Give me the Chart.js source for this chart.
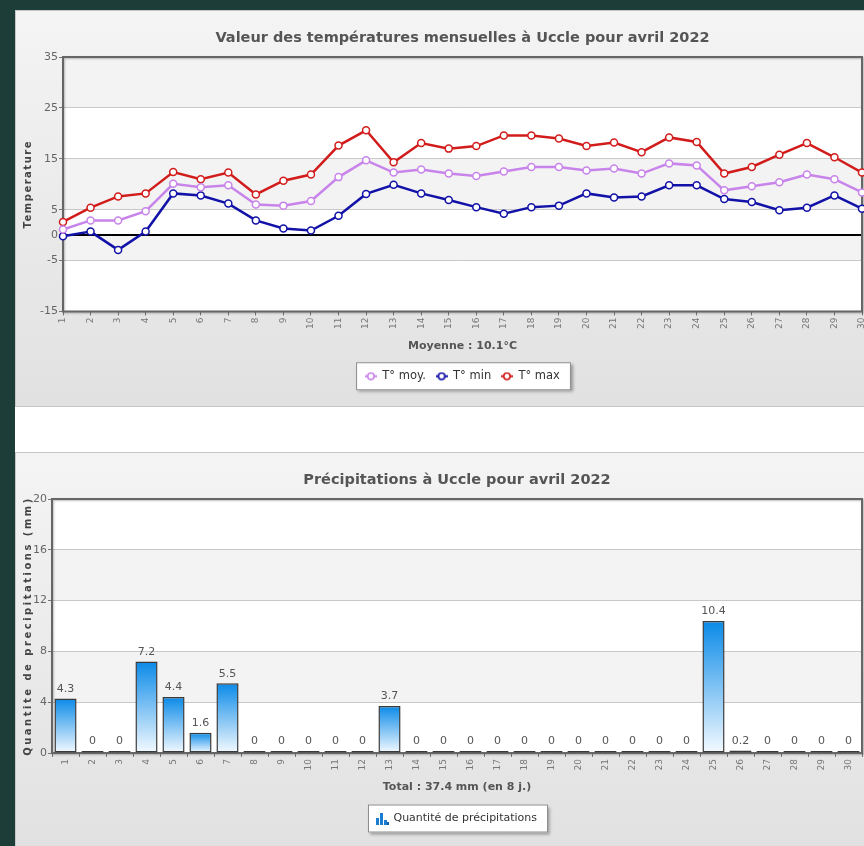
<!DOCTYPE html>
<html lang="fr">
<head>
<meta charset="utf-8">
<title>Uccle - avril 2022</title>
<script src="https://cdn.jsdelivr.net/npm/chart.js@4.4.1/dist/chart.umd.min.js"></script>
<style>
    html, body { margin: 0; padding: 0; }
    body { width: 864px; height: 846px; overflow: hidden; position: relative; background: #fff; }
    .strip { position: absolute; background: #1c3d38; }
    .panel { position: absolute; box-sizing: border-box; border: 1px solid #c6c6c6; background: linear-gradient(#f4f4f4, #e1e1e1); }
    canvas { position: absolute; }
</style>
</head>
<body>
<div class="strip" style="left:0;top:0;width:15px;height:846px"></div>
<div class="strip" style="left:0;top:0;width:864px;height:10px"></div>
<div class="panel" style="left:15px;top:10px;width:900px;height:397px"></div>
<div class="panel" style="left:15px;top:452px;width:900px;height:400px"></div>
<canvas id="tempChart" width="895" height="397" style="left:15px;top:10px"></canvas>
<canvas id="rainChart" width="884" height="397" style="left:15px;top:452px"></canvas>

<script>
const days = ['1', '2', '3', '4', '5', '6', '7', '8', '9', '10', '11', '12', '13', '14', '15',
              '16', '17', '18', '19', '20', '21', '22', '23', '24', '25', '26', '27', '28', '29', '30'];

const tMoy = [1.1, 2.9, 2.9, 4.7, 10.1, 9.4, 9.8, 6.0, 5.8, 6.7, 11.4, 14.7, 12.3, 12.9, 12.1,
              11.6, 12.5, 13.4, 13.4, 12.7, 13.1, 12.1, 14.1, 13.7, 8.8, 9.6, 10.4, 11.9, 11.0, 8.4];
const tMin = [-0.2, 0.7, -2.9, 0.7, 8.2, 7.8, 6.2, 2.9, 1.3, 0.9, 3.8, 8.1, 9.9, 8.2, 6.9,
              5.5, 4.2, 5.5, 5.8, 8.2, 7.4, 7.6, 9.8, 9.8, 7.1, 6.5, 4.9, 5.4, 7.8, 5.2];
const tMax = [2.6, 5.4, 7.6, 8.2, 12.4, 11.0, 12.3, 8.0, 10.7, 11.9, 17.6, 20.6, 14.3, 18.1, 17.0,
              17.5, 19.6, 19.6, 19.0, 17.5, 18.2, 16.3, 19.2, 18.3, 12.1, 13.4, 15.8, 18.1, 15.3, 12.3];
const tempTicks = [-15, -5, 0, 5, 15, 25, 35];

const rain = [4.3, 0, 0, 7.2, 4.4, 1.6, 5.5, 0, 0, 0, 0, 0, 3.7, 0, 0,
              0, 0, 0, 0, 0, 0, 0, 0, 0, 10.4, 0.2, 0, 0, 0, 0];
const rainTicks = [0, 4, 8, 12, 16, 20];

const FONT = '"DejaVu Sans", Verdana, sans-serif';
const lineColors = ['#c884ea', '#1212a8', '#d21c1c'];

Chart.defaults.font.family = FONT;

// alternating bands behind the plot + dark frame around it
const plotFrame = {
    id: 'plotFrame',
    beforeDraw(chart) {
        const { ctx, chartArea: a, scales: { y } } = chart;
        const vals = y.ticks.map(t => t.value).sort((p, q) => p - q);
        ctx.save();
        for (let i = 0; i < vals.length - 1; i++) {
            const yb = y.getPixelForValue(vals[i]);
            const yt = y.getPixelForValue(vals[i + 1]);
            ctx.fillStyle = i % 2 ? '#f3f3f3' : '#ffffff';
            ctx.fillRect(a.left, yt, a.right - a.left, yb - yt);
        }
        ctx.restore();
    },
    beforeDatasetsDraw(chart) {
        const { ctx, chartArea: a } = chart;
        ctx.save();
        ctx.strokeStyle = '#666';
        ctx.lineWidth = 2;
        ctx.shadowColor = 'rgba(0,0,0,0.25)';
        ctx.shadowOffsetX = 1;
        ctx.shadowOffsetY = 1;
        ctx.shadowBlur = 2;
        ctx.strokeRect(a.left, a.top, a.right - a.left, a.bottom - a.top);
        ctx.restore();
    }
};

// white framed box behind the legend
const legendBox = {
    id: 'legendBox',
    beforeDraw(chart) {
        const lg = chart.legend;
        if (!lg || !lg.legendHitBoxes || !lg.legendHitBoxes.length) return;
        const boxes = lg.legendHitBoxes;
        const left = Math.min(...boxes.map(b => b.left)) - 9;
        const right = Math.max(...boxes.map(b => b.left + b.width)) + 11;
        const mid = boxes[0].top + boxes[0].height / 2;
        const { ctx } = chart;
        ctx.save();
        ctx.shadowColor = 'rgba(0,0,0,0.35)';
        ctx.shadowOffsetX = 2;
        ctx.shadowOffsetY = 2;
        ctx.shadowBlur = 3;
        ctx.fillStyle = '#fff';
        ctx.fillRect(left, mid - 14, right - left, 28);
        ctx.shadowColor = 'transparent';
        ctx.strokeStyle = '#8a8a8a';
        ctx.lineWidth = 1;
        ctx.strokeRect(left + 0.5, mid - 13.5, right - left - 1, 27);
        ctx.restore();
    }
};

const barValues = {
    id: 'barValues',
    afterDatasetsDraw(chart) {
        const { ctx } = chart;
        const meta = chart.getDatasetMeta(0);
        ctx.save();
        ctx.font = '11px ' + FONT;
        ctx.fillStyle = '#555';
        ctx.textAlign = 'center';
        ctx.textBaseline = 'bottom';
        meta.data.forEach((bar, i) => ctx.fillText(String(rain[i]), bar.x, bar.y - 4));
        ctx.restore();
    }
};

function lineIcon(color) {
    const c = document.createElement('canvas');
    c.width = 12;
    c.height = 9;
    const g = c.getContext('2d');
    g.strokeStyle = color;
    g.lineWidth = 2;
    g.beginPath();
    g.moveTo(0, 4.5);
    g.lineTo(12, 4.5);
    g.stroke();
    g.beginPath();
    g.arc(6, 4.5, 3.2, 0, Math.PI * 2);
    g.fillStyle = '#fff';
    g.fill();
    g.lineWidth = 1.6;
    g.stroke();
    return c;
}

function barIcon() {
    const c = document.createElement('canvas');
    c.width = 13;
    c.height = 13;
    const g = c.getContext('2d');
    g.fillStyle = '#1b7dd1';
    g.fillRect(0, 6, 3, 7);
    g.fillRect(4, 1, 3, 12);
    g.fillRect(8, 8, 3, 5);
    g.fillStyle = '#0b5fa8';
    g.fillRect(11, 10, 2, 3);
    return c;
}

function spacedTitle(scale, spacing) {
    if (scale._spaced) return;
    const draw = scale.drawTitle.bind(scale);
    scale.drawTitle = function () {
        this.ctx.save();
        this.ctx.letterSpacing = spacing;
        draw();
        this.ctx.restore();
    };
    scale._spaced = true;
}

function barFill(c) {
    const chart = c.chart;
    const y = chart.scales.y;
    if (!y || c.raw === undefined) return '#1a8fe8';
    const top = y.getPixelForValue(c.raw);
    const base = y.getPixelForValue(0);
    if (base - top < 3) return '#6f9fc9';
    const g = chart.ctx.createLinearGradient(0, top, 0, base);
    g.addColorStop(0, '#0a8ae8');
    g.addColorStop(1, '#f4faff');
    return g;
}

const xTicks = { minRotation: 90, maxRotation: 90, autoSkip: false, padding: 2, color: '#777', font: { size: 9 } };

new Chart(document.getElementById('tempChart'), {
    type: 'line',
    data: {
        labels: days,
        datasets: [
            { label: 'T° moy.', data: tMoy },
            { label: 'T° min', data: tMin },
            { label: 'T° max', data: tMax }
        ].map((d, i) => Object.assign(d, {
            borderColor: lineColors[i],
            pointBorderColor: lineColors[i],
            pointBackgroundColor: '#fff',
            borderWidth: 2.5,
            pointRadius: 3.5,
            pointBorderWidth: 1.5,
            tension: 0
        }))
    },
    options: {
        responsive: false,
        animation: false,
        layout: { padding: { left: 0, right: 48, top: 0, bottom: 15 } },
        plugins: {
            title: {
                display: true,
                text: 'Valeur des températures mensuelles à Uccle pour avril 2022',
                fullSize: false,
                color: '#555',
                font: { size: 14.5, weight: 'bold' },
                padding: { top: 19.6, bottom: 10 }
            },
            legend: {
                position: 'bottom',
                fullSize: false,
                labels: {
                    usePointStyle: true,
                    padding: 10,
                    color: '#333',
                    font: { size: 11.5 },
                    generateLabels(chart) {
                        const items = Chart.defaults.plugins.legend.labels.generateLabels(chart);
                        items.forEach((it, i) => { it.pointStyle = lineIcon(lineColors[i]); });
                        return items;
                    }
                }
            },
            tooltip: { enabled: false }
        },
        scales: {
            x: {
                offset: false,
                grid: { drawOnChartArea: false, tickLength: 4, color: '#777' },
                border: { display: false },
                ticks: xTicks,
                title: {
                    display: true,
                    text: 'Moyenne : 10.1°C',
                    color: '#555',
                    font: { size: 11, weight: 'bold' },
                    padding: { top: 0, bottom: 8 }
                },
                afterFit(s) { s.height = 49; }
            },
            y: {
                min: -15,
                max: 35,
                afterBuildTicks(s) { s.ticks = tempTicks.map(v => ({ value: v })); },
                grid: {
                    color: c => (c.tick && c.tick.value === 0 ? '#000' : '#c8c8c8'),
                    lineWidth: c => (c.tick && c.tick.value === 0 ? 2 : 1),
                    tickLength: 4,
                    tickColor: '#777'
                },
                border: { display: false },
                ticks: { color: '#666', font: { size: 11 }, padding: 1 },
                title: {
                    display: true,
                    text: 'Temperature',
                    color: '#444',
                    font: { size: 10, weight: 'bold' },
                    padding: { top: 7, bottom: 0 }
                },
                afterFit(s) { s.width = 48; spacedTitle(s, '1.5px'); }
            }
        }
    },
    plugins: [plotFrame, legendBox]
});

new Chart(document.getElementById('rainChart'), {
    type: 'bar',
    data: {
        labels: days,
        datasets: [{
            label: 'Quantité de précipitations',
            data: rain,
            backgroundColor: barFill,
            borderColor: '#3a3a3a',
            borderWidth: 1.5,
            borderSkipped: false,
            minBarLength: 2,
            categoryPercentage: 1,
            barPercentage: 0.82
        }]
    },
    options: {
        responsive: false,
        animation: false,
        layout: { padding: { left: 0, right: 37, top: 0, bottom: 15 } },
        plugins: {
            title: {
                display: true,
                text: 'Précipitations à Uccle pour avril 2022',
                fullSize: false,
                color: '#555',
                font: { size: 14.5, weight: 'bold' },
                padding: { top: 19.6, bottom: 10 }
            },
            legend: {
                position: 'bottom',
                fullSize: false,
                labels: {
                    usePointStyle: true,
                    padding: 10,
                    color: '#333',
                    font: { size: 11 },
                    generateLabels(chart) {
                        const items = Chart.defaults.plugins.legend.labels.generateLabels(chart);
                        items.forEach(it => { it.pointStyle = barIcon(); });
                        return items;
                    }
                }
            },
            tooltip: { enabled: false }
        },
        scales: {
            x: {
                grid: { drawOnChartArea: false, tickLength: 4, color: '#777' },
                border: { display: false },
                ticks: xTicks,
                title: {
                    display: true,
                    text: 'Total : 37.4 mm (en 8 j.)',
                    color: '#555',
                    font: { size: 11, weight: 'bold' },
                    padding: { top: 0, bottom: 9 }
                },
                afterFit(s) { s.height = 50; }
            },
            y: {
                min: 0,
                max: 20,
                afterBuildTicks(s) { s.ticks = rainTicks.map(v => ({ value: v })); },
                grid: { color: '#c8c8c8', tickLength: 4, tickColor: '#777' },
                border: { display: false },
                ticks: { color: '#666', font: { size: 11 }, padding: 1 },
                title: {
                    display: true,
                    text: 'Quantite de precipitations (mm)',
                    color: '#444',
                    font: { size: 10, weight: 'bold' },
                    padding: { top: 7, bottom: 0 }
                },
                afterFit(s) { s.width = 37; spacedTitle(s, '2.5px'); }
            }
        }
    },
    plugins: [plotFrame, legendBox, barValues]
});
</script>
</body>
</html>
